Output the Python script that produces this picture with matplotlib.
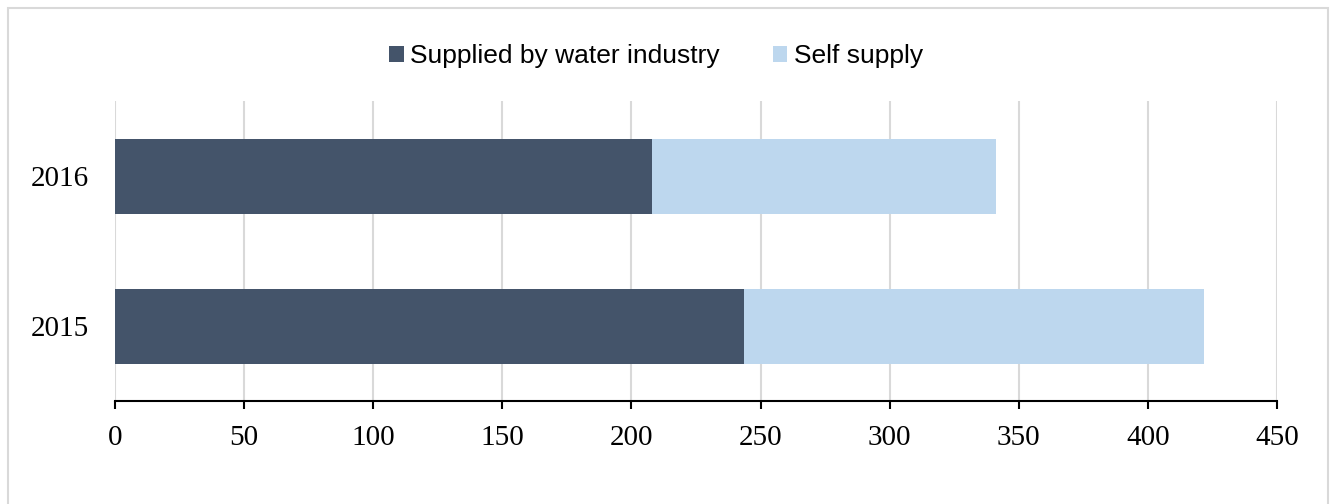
import matplotlib
matplotlib.use("Agg")
import matplotlib.pyplot as plt
from matplotlib.patches import Rectangle
import numpy as np

# Water supply by source and year
years = ["2015", "2016"]
water_industry = [243.5, 208.0]
self_supply = [178.2, 133.0]
series_labels = ["Supplied by water industry", "Self supply"]
x_ticks = [0, 50, 100, 150, 200, 250, 300, 350, 400, 450]

DARK = "#44546A"
LIGHT = "#BDD7EE"
GRID = "#D9D9D9"

fig = plt.figure(figsize=(13.33, 5.04), dpi=100)
ax = fig.add_axes([115 / 1333, 103 / 504, 1162 / 1333, 300 / 504])

y = np.arange(len(years))
ax.barh(y, water_industry, height=0.5, color=DARK, label=series_labels[0])
ax.barh(y, self_supply, left=water_industry, height=0.5, color=LIGHT,
        label=series_labels[1])

ax.set_xlim(0, 450)
ax.set_ylim(-0.5, 1.5)
ax.set_xticks(x_ticks)
ax.set_yticks(y)
ax.set_yticklabels(years)

ax.grid(axis="x", color=GRID, linewidth=1.5)
ax.set_axisbelow(True)
for side in ("top", "right", "left"):
    ax.spines[side].set_visible(False)
ax.spines["bottom"].set_linewidth(1.5)
ax.tick_params(axis="x", direction="out", length=6, width=1.5, pad=11,
               labelsize=21)
ax.tick_params(axis="y", length=0, pad=19, labelsize=21)
for lbl in ax.get_xticklabels() + ax.get_yticklabels():
    lbl.set_fontfamily("Liberation Serif")

fig.legend(loc="center", bbox_to_anchor=(656 / 1333, 1 - 56 / 504), ncol=2,
           frameon=False, prop={"family": "Liberation Sans", "size": 19},
           handlelength=0.55, handleheight=0.55, handletextpad=0.25,
           columnspacing=2.0)

# light outer frame
fig.patches.append(Rectangle((8 / 1333, -0.05), 1320 / 1333, 1.05 - 8 / 504,
                             transform=fig.transFigure, fill=False,
                             edgecolor=GRID, linewidth=1.5))

fig.savefig("out.png", dpi=100)
